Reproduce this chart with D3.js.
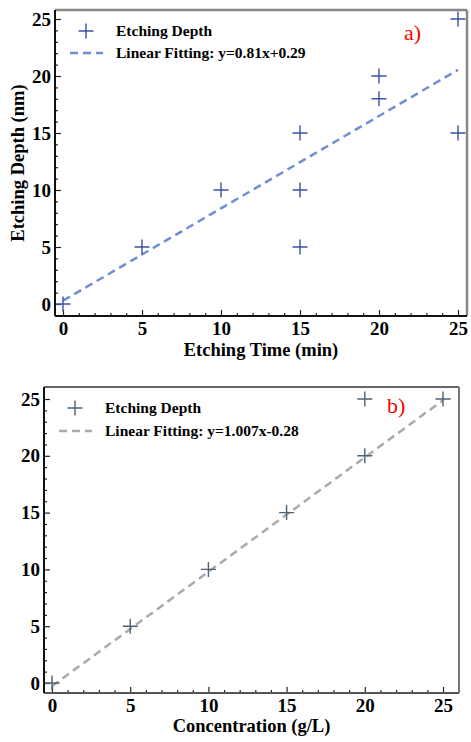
<!DOCTYPE html>
<html>
<head>
<meta charset="utf-8">
<script src="https://cdn.jsdelivr.net/npm/d3@7"></script>
<style>
  body { margin: 0; background: #fff; }
  svg { display: block; }
  text { font-family: "Liberation Serif", "Times New Roman", serif; font-weight: bold; }
  .tick text { font-size: 19px; fill: #000; }
  .tag { font-weight: normal; }
</style>
</head>
<body>
<div id="chart"></div>
<script>
// panel a data
var timeX = [0, 5, 10, 15, 15, 15, 20, 20, 25, 25];
var timeY = [0, 5, 10, 15, 10, 5, 20, 18, 25, 15];
var fitA = { slope: 0.81, icpt: 0.29, label: "Linear Fitting: y=0.81x+0.29" };

// panel b data
var concX = [0, 5, 10, 15, 20, 20, 25];
var concY = [0, 5, 10, 15, 20, 25, 25];
var fitB = { slope: 1.007, icpt: -0.28, label: "Linear Fitting: y=1.007x-0.28" };

var majorTicks = [0, 5, 10, 15, 20, 25];
var minorTicks = d3.range(0, 26).filter(function(d) { return d % 5 !== 0; });

var W = 471, H = 742;
var svg = d3.select("#chart").append("svg").attr("width", W).attr("height", H);

function panel(cfg) {
  var g = svg.append("g");
  var x = d3.scaleLinear().domain([0, 25]).range(cfg.xr);
  var y = d3.scaleLinear().domain([0, 25]).range(cfg.yr);
  var f = cfg.frame; // left, top, right, bottom

  // ticks (inward)
  g.append("g").attr("transform", "translate(0," + f[3] + ")")
    .call(d3.axisBottom(x).tickValues(majorTicks).tickSize(-6).tickPadding(6).tickFormat(d3.format("d")));
  g.append("g").attr("transform", "translate(0," + f[3] + ")")
    .call(d3.axisBottom(x).tickValues(minorTicks).tickSize(-3).tickFormat(""));
  g.append("g").attr("transform", "translate(" + f[0] + ",0)")
    .call(d3.axisLeft(y).tickValues(majorTicks).tickSize(-6).tickPadding(4).tickFormat(d3.format("d")));
  g.append("g").attr("transform", "translate(" + f[0] + ",0)")
    .call(d3.axisLeft(y).tickValues(minorTicks).tickSize(-3).tickFormat(""));
  g.selectAll(".domain").remove();
  g.selectAll(".tick line").attr("stroke", "#222").attr("stroke-width", 1.2);

  // fit line
  var line = d3.line().x(function(d) { return x(d); }).y(function(d) { return y(cfg.fit.slope * d + cfg.fit.icpt); });
  g.append("path").datum([0, 25]).attr("d", line)
    .attr("fill", "none").attr("stroke", cfg.lineColor).attr("stroke-width", 2.5)
    .attr("stroke-dasharray", "8,5");

  // markers
  var pts = cfg.xs.map(function(d, i) { return [d, cfg.ys[i]]; });
  var s = 7.5;
  g.selectAll(".pt").data(pts).enter().append("path").attr("class", "pt")
    .attr("d", function(d) {
      var px = x(d[0]), py = y(d[1]);
      return "M" + (px - s) + "," + py + "H" + (px + s) + "M" + px + "," + (py - s) + "V" + (py + s);
    })
    .attr("stroke", cfg.markColor).attr("stroke-width", 1.4).attr("fill", "none");

  // frame
  var sp = cfg.spines;
  g.append("line").attr("x1", f[0]).attr("x2", f[2]).attr("y1", f[1]).attr("y2", f[1]).attr("stroke", sp.top[0]).attr("stroke-width", sp.top[1]);
  g.append("line").attr("x1", f[2]).attr("x2", f[2]).attr("y1", f[1]).attr("y2", f[3]).attr("stroke", sp.right[0]).attr("stroke-width", sp.right[1]);
  g.append("line").attr("x1", f[0]).attr("x2", f[2]).attr("y1", f[3]).attr("y2", f[3]).attr("stroke", sp.bottom[0]).attr("stroke-width", sp.bottom[1]);
  g.append("line").attr("x1", f[0]).attr("x2", f[0]).attr("y1", f[1]).attr("y2", f[3]).attr("stroke", sp.left[0]).attr("stroke-width", sp.left[1]);

  // legend
  var L = cfg.legend;
  g.append("path")
    .attr("d", "M" + (L.mx - s) + "," + L.y1 + "H" + (L.mx + s) + "M" + L.mx + "," + (L.y1 - s) + "V" + (L.y1 + s))
    .attr("stroke", cfg.markColor).attr("stroke-width", 1.4);
  g.append("line").attr("x1", L.lx0).attr("x2", L.lx1).attr("y1", L.y2).attr("y2", L.y2)
    .attr("stroke", cfg.lineColor).attr("stroke-width", 2.5).attr("stroke-dasharray", "8,5");
  g.append("text").attr("x", L.tx).attr("y", L.y1 + 5).attr("font-size", 15.5).text("Etching Depth");
  g.append("text").attr("x", L.tx).attr("y", L.y2 + 5).attr("font-size", 15.5).text(cfg.fit.label);

  // panel letter
  g.append("text").attr("class", "tag").attr("x", cfg.tag[0]).attr("y", cfg.tag[1]).attr("fill", "red")
    .attr("font-size", 22).text(cfg.tag[2]);

  // axis titles
  g.append("text").attr("x", (f[0] + f[2]) / 2).attr("y", cfg.xtitleY).attr("text-anchor", "middle")
    .attr("font-size", 18.5).text(cfg.xtitle);
  if (cfg.ytitle) {
    g.append("text").attr("transform", "translate(24," + ((f[1] + f[3]) / 2) + ") rotate(-90)")
      .attr("text-anchor", "middle").attr("font-size", 18.5).text(cfg.ytitle);
  }
}

panel({
  xs: timeX, ys: timeY, fit: fitA,
  xr: [63, 458], yr: [304, 19],
  frame: [55, 10, 467, 316],
  spines: { top: ["#888", 2.5], right: ["#888", 2.5], bottom: ["#111", 2], left: ["#111", 2] },
  markColor: "#3c52a6", lineColor: "#6f8fd0",
  legend: { mx: 86, y1: 31, y2: 53, lx0: 70, lx1: 103, tx: 116 },
  tag: [404, 40, "a)"],
  xtitle: "Etching Time (min)", xtitleY: 356,
  ytitle: "Etching Depth (nm)"
});

panel({
  xs: concX, ys: concY, fit: fitB,
  xr: [52, 443], yr: [683, 399],
  frame: [44, 387, 459, 693],
  spines: { top: ["#333", 1.5], right: ["#777", 2], bottom: ["#555", 2], left: ["#111", 2] },
  markColor: "#4c6276", lineColor: "#aaaaaa",
  legend: { mx: 75, y1: 408, y2: 431, lx0: 59, lx1: 92, tx: 105 },
  tag: [387, 413, "b)"],
  xtitle: "Concentration (g/L)", xtitleY: 732
});
</script>
</body>
</html>
